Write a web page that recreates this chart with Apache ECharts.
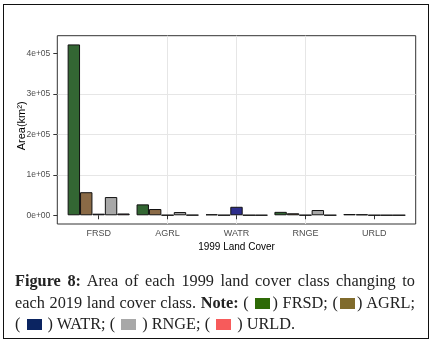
<!DOCTYPE html>
<html>
<head>
<meta charset="utf-8">
<script src="https://cdn.jsdelivr.net/npm/echarts@6/dist/echarts.min.js"></script>
<style>
  body { margin: 0; background: #fff; }
  #frame { position: absolute; left: 3px; top: 4px; width: 424px; height: 333px; border: 1.6px solid #111; }
  #chart { position: absolute; left: 0; top: 0; width: 433px; height: 349px; }
  #caption { position: absolute; left: 15px; top: 270px; width: 400px; font-family: 'Liberation Serif', serif; font-size: 16.3px; line-height: 21.7px; color: #222; }
  #caption .j { text-align: justify; text-align-last: justify; }
  .sw { display: inline-block; width: 15px; height: 11px; vertical-align: -1px; margin: 0 2px; }
</style>
</head>
<body>
<div id="chart"></div>
<div id="frame"></div>
<div id="caption">
  <div class="j"><b>Figure 8:</b> Area of each 1999 land cover class changing to</div>
  <div class="j">each 2019 land cover class. <b>Note:</b> ( <span class="sw" style="background:#2e6a06"></span>) FRSD; (<span class="sw" style="background:#806b2c"></span>) AGRL;</div>
  <div>( <span class="sw" style="background:#0b2461"></span> ) WATR; ( <span class="sw" style="background:#a8a8a8"></span> ) RNGE; ( <span class="sw" style="background:#f75b5b"></span> ) URLD.</div>
</div>
<script>
// 1999 classes on x, bars = 2019 class they became
const categories = ['FRSD', 'AGRL', 'WATR', 'RNGE', 'URLD'];
const frsd = [422000, 27000, 2500, 8500, 3000];
const agrl = [57000, 15500, 600, 5000, 2500];
const watr = [4000, 500, 21000, 600, 400];
const rnge = [45000, 8000, 500, 13000, 400];
const urld = [4500, 800, 400, 500, 400];
const yTicks = [0, 100000, 200000, 300000, 400000];
const yTickLabels = ['0e+00', '1e+05', '2e+05', '3e+05', '4e+05'];

const colors = ['#336633', '#8a6a46', '#2e2e8c', '#a8a8a8', '#6e3a4e'];
const xs = categories.map((c, i) => i + 1);

let chartDom = document.getElementById('chart');
let myChart = echarts.init(chartDom);
let option;

const font = "'Liberation Sans', Arial, sans-serif";

function bar(name, values, i) {
    return {
        name: name,
        type: 'bar',
        data: values.map((v, k) => [xs[k], v]),
        barGap: '0%',
        barCategoryGap: '10%',
        clip: false,
        itemStyle: { color: colors[i], borderColor: '#111', borderWidth: 1 }
    };
}

option = {
    animation: false,
    grid: {
        left: 57.3, right: 17.3, top: 35.7, bottom: 125,
        show: true, borderColor: '#333', borderWidth: 1, backgroundColor: 'transparent'
    },
    xAxis: {
        type: 'value',
        min: 0.4,
        max: 5.6,
        splitNumber: 5,
        name: '1999 Land Cover',
        nameLocation: 'middle',
        nameGap: 18,
        nameMoveOverlap: false,
        nameTextStyle: { fontFamily: font, fontSize: 10, color: '#000' },
        axisLine: { show: false },
        axisTick: { show: true, length: 4, lineStyle: { color: '#333' }, customValues: xs },
        axisLabel: {
            fontFamily: font, fontSize: 9, color: '#4d4d4d', margin: 5,
            customValues: xs,
            formatter: v => categories[Math.round(v) - 1]
        },
        splitLine: { show: true, showMinLine: false, showMaxLine: false, lineStyle: { color: '#e6e6e6', width: 1 } }
    },
    yAxis: {
        type: 'value',
        min: -21500,
        max: 443500,
        splitNumber: 10,
        name: 'Area(km²)',
        nameLocation: 'middle',
        nameGap: 30,
        nameMoveOverlap: false,
        nameTextStyle: { fontFamily: font, fontSize: 11, color: '#000', padding: [0, 0, 0, 8] },
        axisLine: { show: false },
        axisTick: { show: true, length: 4, lineStyle: { color: '#333' }, customValues: yTicks },
        axisLabel: {
            fontFamily: font, fontSize: 8.5, color: '#4d4d4d', margin: 7,
            customValues: yTicks,
            formatter: v => yTickLabels[yTicks.indexOf(v)]
        },
        splitLine: { show: true, showMinLine: false, showMaxLine: false, lineStyle: { color: '#e6e6e6', width: 1 } }
    },
    series: [
        bar('FRSD', frsd, 0),
        bar('AGRL', agrl, 1),
        bar('WATR', watr, 2),
        bar('RNGE', rnge, 3),
        bar('URLD', urld, 4)
    ]
};

option && myChart.setOption(option);
</script>
</body>
</html>
